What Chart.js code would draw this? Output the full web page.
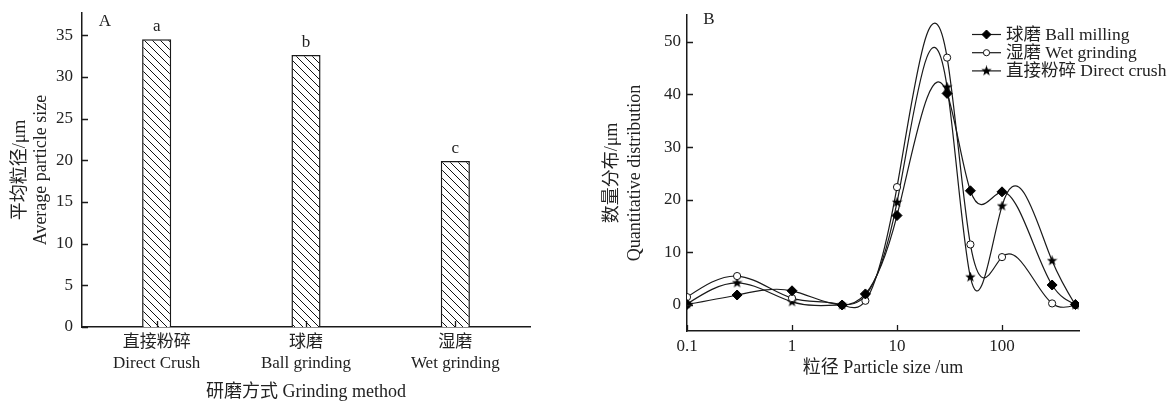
<!DOCTYPE html>
<html>
<head>
<meta charset="utf-8">
<script src="https://cdn.jsdelivr.net/npm/chart.js@4.4.0/dist/chart.umd.min.js"></script>
<style>
  body { margin: 0; background: #fff; width: 1173px; height: 401px; overflow: hidden; position: relative; }
  #boxA { position: absolute; left: 0; top: 0; }
  #boxB { position: absolute; left: 560px; top: 0; }
</style>
</head>
<body>
<div id="boxA"><canvas id="barChart" width="560" height="401"></canvas></div>
<div id="boxB"><canvas id="lineChart" width="613" height="401"></canvas></div>
<script>
// panel A - average particle size per grinding method
var methods = [["直接粉碎", "Direct Crush"], ["球磨", "Ball grinding"], ["湿磨", "Wet grinding"]]
var avgSize = [34.5, 32.6, 19.9]
var sigLetters = ["a", "b", "c"]
var yTicksA = [0, 5, 10, 15, 20, 25, 30, 35]

// panel B - quantitative distribution vs particle size (log axis)
var sizes = [0.1, 0.3, 1, 3, 5, 10, 30, 50, 100, 300, 500]
var ballMilling = [0.1, 1.9, 2.7, 0, 2.1, 17.0, 40.2, 21.7, 21.5, 3.8, 0.1]
var wetGrinding = [1.5, 5.5, 1.3, 0, 0.8, 22.4, 47.0, 11.5, 9.1, 0.3, 0]
var directCrush = [0.2, 4.2, 0.6, 0, 1.8, 19.5, 41.4, 5.3, 18.8, 8.4, 0]
var xTicksB = [0.1, 1, 10, 100]
var yTicksB = [0, 10, 20, 30, 40, 50]

var F = "'Liberation Serif', 'Noto Sans CJK SC', serif"
var INK = '#1a1a1a'
var TXT = '#222'

function fixTicks(list) {
  return function(s) { s.ticks = list.map(function(v) { return { value: v } }) }
}
// keep the plot area exactly where the layout padding puts it
function noPad(s) { s.paddingTop = 0; s.paddingBottom = 0; s.paddingLeft = 0; s.paddingRight = 0 }

// hatch fill for the bars
var ctxA = document.getElementById('barChart').getContext('2d')
function makeHatch() {
  var c = document.createElement('canvas')
  c.width = 8; c.height = 8
  var g = c.getContext('2d')
  g.fillStyle = '#fff'; g.fillRect(0, 0, 8, 8)
  g.strokeStyle = '#111'; g.lineWidth = 1
  g.beginPath()
  g.moveTo(-2, -2); g.lineTo(10, 10)
  g.moveTo(-2, 6); g.lineTo(2, 10)
  g.moveTo(6, -2); g.lineTo(10, 2)
  g.stroke()
  return ctxA.createPattern(c, 'repeat')
}

// filled five point star marker
function makeStar(size) {
  var c = document.createElement('canvas')
  c.width = size; c.height = size
  var g = c.getContext('2d')
  var r = size / 2, ri = r * 0.42
  g.fillStyle = '#000'
  g.beginPath()
  for (var k = 0; k < 10; k++) {
    var rad = k % 2 ? ri : r
    var a = -Math.PI / 2 + k * Math.PI / 5
    var px = r + rad * Math.cos(a), py = r + rad * Math.sin(a)
    if (k == 0) g.moveTo(px, py); else g.lineTo(px, py)
  }
  g.closePath(); g.fill()
  return c
}
var star = makeStar(11)

// ticks pointing into the plot
var inwardTicks = {
  id: 'inwardTicks',
  afterDatasetsDraw: function(chart) {
    var ctx = chart.ctx, area = chart.chartArea
    var xs = chart.scales.x, ys = chart.scales.y
    ctx.save()
    ctx.strokeStyle = INK; ctx.lineWidth = 1.3
    ctx.beginPath()
    xs.ticks.forEach(function(t, i) {
      var px = Math.round(xs.getPixelForTick(i)) + 0.5
      ctx.moveTo(px, area.bottom); ctx.lineTo(px, area.bottom - 6)
    })
    ys.ticks.forEach(function(t, i) {
      var py = Math.round(ys.getPixelForTick(i)) + 0.5
      ctx.moveTo(area.left, py); ctx.lineTo(area.left + 6, py)
    })
    ctx.stroke()
    ctx.restore()
  }
}

function panelLetter(txt, dx, dy) {
  return {
    id: 'panel' + txt,
    afterDraw: function(chart) {
      var ctx = chart.ctx, area = chart.chartArea
      ctx.save()
      ctx.font = '17px ' + F; ctx.fillStyle = TXT
      ctx.textAlign = 'center'; ctx.textBaseline = 'middle'
      ctx.fillText(txt, area.left + dx, area.top + dy)
      ctx.restore()
    }
  }
}

var barLetters = {
  id: 'barLetters',
  afterDatasetsDraw: function(chart) {
    var ctx = chart.ctx
    var meta = chart.getDatasetMeta(0)
    ctx.save()
    ctx.font = '17px ' + F; ctx.fillStyle = TXT
    ctx.textAlign = 'center'; ctx.textBaseline = 'middle'
    meta.data.forEach(function(bar, i) {
      ctx.fillText(sigLetters[i], bar.x, bar.y - 13)
    })
    ctx.restore()
  }
}

new Chart(ctxA, {
  type: 'bar',
  data: {
    labels: methods,
    datasets: [{
      data: avgSize,
      backgroundColor: makeHatch(),
      borderColor: INK,
      borderWidth: 1.5,
      barPercentage: 0.195,
      categoryPercentage: 1
    }]
  },
  options: {
    responsive: false,
    animation: false,
    events: [],
    layout: { padding: { top: 13, right: 30, left: 0, bottom: 0 } },
    plugins: { legend: { display: false }, tooltip: { enabled: false } },
    scales: {
      x: {
        grid: { display: false, drawTicks: false },
        border: { display: true, color: INK, width: 1.5 },
        ticks: { color: TXT, font: { family: F, size: 17, lineHeight: 1.25 }, padding: 5, maxRotation: 0, autoSkip: false },
        title: { display: true, text: '研磨方式 Grinding method', color: TXT,
                 font: { family: F, size: 18, lineHeight: 1.0 }, padding: { top: 0, bottom: 0 } },
        afterFit: function(s) { s.height = 74; noPad(s) }
      },
      y: {
        min: 0, max: 37.65,
        grid: { display: false, drawTicks: false },
        border: { display: true, color: INK, width: 1.5 },
        afterBuildTicks: fixTicks(yTicksA),
        ticks: { color: TXT, font: { family: F, size: 17 }, padding: 9 },
        title: { display: true, text: ['平均粒径/μm', 'Average particle size'], color: TXT,
                 font: { family: F, size: 18, lineHeight: 1.1667 }, padding: { top: 9.5, bottom: 0 } },
        afterFit: function(s) { s.width = 82; noPad(s) }
      }
    }
  },
  plugins: [inwardTicks, barLetters, panelLetter('A', 23, 9)]
})

// natural cubic spline through each series (in pixel space from the scales)
function splinePath(ctx, pts) {
  var n = pts.length, i
  var h = [], M = [], a = [], b = [], c = [], d = []
  for (i = 0; i < n; i++) M[i] = 0
  for (i = 0; i < n - 1; i++) h[i] = pts[i + 1].x - pts[i].x
  for (i = 1; i < n - 1; i++) {
    a[i] = h[i - 1]; b[i] = 2 * (h[i - 1] + h[i]); c[i] = h[i]
    d[i] = 6 * ((pts[i + 1].y - pts[i].y) / h[i] - (pts[i].y - pts[i - 1].y) / h[i - 1])
  }
  for (i = 2; i < n - 1; i++) {
    var w = a[i] / b[i - 1]
    b[i] -= w * c[i - 1]; d[i] -= w * d[i - 1]
  }
  for (i = n - 2; i >= 1; i--) M[i] = (d[i] - c[i] * M[i + 1]) / b[i]
  ctx.moveTo(pts[0].x, pts[0].y)
  for (i = 0; i < n - 1; i++) {
    var hi = h[i], s = (pts[i + 1].y - pts[i].y) / hi
    var d0 = s - hi * (2 * M[i] + M[i + 1]) / 6
    var d1 = s + hi * (M[i] + 2 * M[i + 1]) / 6
    ctx.bezierCurveTo(pts[i].x + hi / 3, pts[i].y + d0 * hi / 3,
                      pts[i + 1].x - hi / 3, pts[i + 1].y - d1 * hi / 3,
                      pts[i + 1].x, pts[i + 1].y)
  }
}

var splines = {
  id: 'splines',
  beforeDatasetsDraw: function(chart) {
    var ctx = chart.ctx, area = chart.chartArea
    ctx.save()
    ctx.beginPath(); ctx.rect(area.left, area.top, area.right - area.left, area.bottom - area.top); ctx.clip()
    ctx.strokeStyle = INK; ctx.lineWidth = 1.2
    chart.data.datasets.forEach(function(ds, i) {
      var pts = chart.getDatasetMeta(i).data.map(function(p) { return { x: p.x, y: p.y } })
      ctx.beginPath(); splinePath(ctx, pts); ctx.stroke()
    })
    ctx.restore()
  }
}

var legendB = {
  id: 'legendB',
  afterDraw: function(chart) {
    var ctx = chart.ctx
    ctx.save()
    ctx.font = '17.5px ' + F
    ctx.textBaseline = 'middle'; ctx.textAlign = 'left'
    chart.data.datasets.forEach(function(ds, i) {
      var y = 34.5 + i * 18.2
      ctx.strokeStyle = INK; ctx.lineWidth = 1.2
      ctx.beginPath(); ctx.moveTo(412, y); ctx.lineTo(441, y); ctx.stroke()
      ctx.fillStyle = ds.pointBackgroundColor; ctx.strokeStyle = ds.pointBorderColor; ctx.lineWidth = 1
      Chart.helpers.drawPoint(ctx, { pointStyle: ds.pointStyle, radius: ds.pointRadius - 0.5, borderWidth: 1, rotation: 0 }, 426.5, y)
      ctx.fillStyle = TXT
      ctx.fillText(ds.label, 446, y + 1)
    })
    ctx.restore()
  }
}

function series(vals) {
  return sizes.map(function(s, i) { return { x: s, y: vals[i] } })
}

new Chart(document.getElementById('lineChart'), {
  type: 'scatter',
  data: {
    datasets: [
      { label: '球磨 Ball milling', data: series(ballMilling), pointStyle: 'rectRot', pointRadius: 5,
        pointBackgroundColor: '#000', pointBorderColor: '#000', pointBorderWidth: 1, showLine: false },
      { label: '湿磨 Wet grinding', data: series(wetGrinding), pointStyle: 'circle', pointRadius: 3.6,
        pointBackgroundColor: '#fff', pointBorderColor: '#111', pointBorderWidth: 1, showLine: false },
      { label: '直接粉碎 Direct crush', data: series(directCrush), pointStyle: star, pointRadius: 5,
        pointBackgroundColor: '#000', pointBorderColor: '#000', pointBorderWidth: 1, showLine: false }
    ]
  },
  options: {
    responsive: false,
    animation: false,
    events: [],
    layout: { padding: { top: 15, right: 94, left: 0, bottom: 0 } },
    plugins: { legend: { display: false }, tooltip: { enabled: false } },
    scales: {
      x: {
        type: 'logarithmic', min: 0.1, max: 541,
        grid: { display: false, drawTicks: false },
        border: { display: true, color: INK, width: 1.5 },
        afterBuildTicks: fixTicks(xTicksB),
        ticks: { color: TXT, font: { family: F, size: 17, lineHeight: 1.235 }, padding: 5, maxRotation: 0, autoSkip: false,
                 callback: function(v) { return String(v) } },
        title: { display: true, text: '粒径 Particle size /um', color: TXT,
                 font: { family: F, size: 18, lineHeight: 1.0 }, padding: { top: 0, bottom: 24 } },
        afterFit: function(s) { s.height = 70; noPad(s) }
      },
      y: {
        min: -4.94, max: 55.1,
        grid: { display: false, drawTicks: false },
        border: { display: true, color: INK, width: 1.5 },
        afterBuildTicks: fixTicks(yTicksB),
        ticks: { color: TXT, font: { family: F, size: 17 }, padding: 6 },
        title: { display: true, text: ['数量分布/μm', 'Quantitative distribution'], color: TXT,
                 font: { family: F, size: 18, lineHeight: 1.278 }, padding: { top: 40.5, bottom: 0 } },
        afterFit: function(s) { s.width = 127; noPad(s) }
      }
    }
  },
  plugins: [splines, inwardTicks, legendB, panelLetter('B', 22, 5)]
})
</script>
</body>
</html>
